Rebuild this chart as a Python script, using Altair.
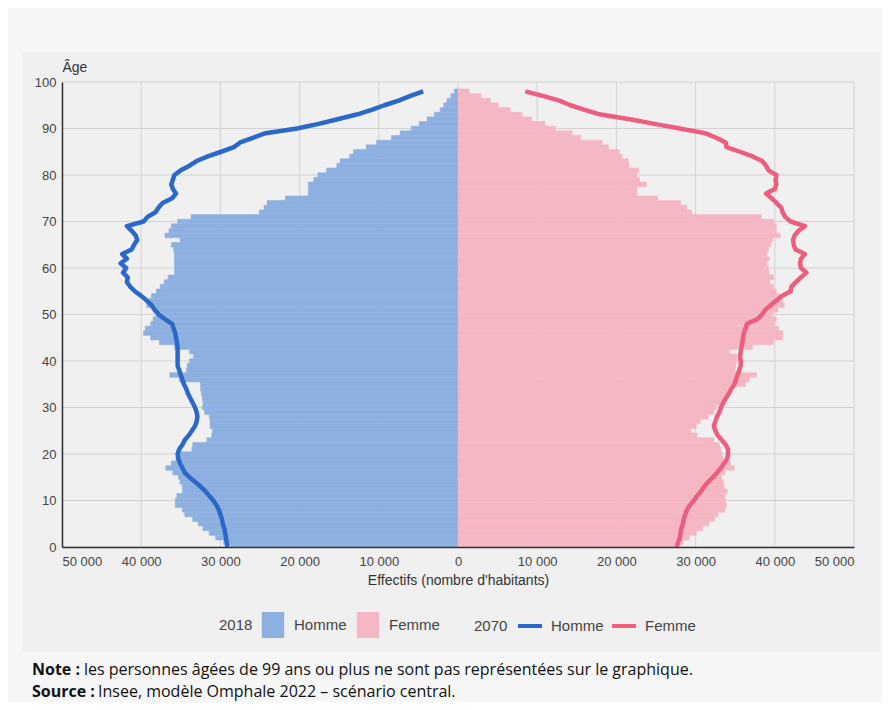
import altair as alt
import pandas as pd

ages = list(range(99))

homme_2018 = [28700, 29600, 30600, 31400, 32200, 32800, 33500, 34500, 34800, 35700,
              35700, 35500, 34800, 34800, 35100, 35300, 36000, 36900, 36200, 35600,
              35500, 33600, 33500, 31700, 31100, 31000, 31300, 31300, 31400, 32000,
              32300, 32200, 32300, 32400, 32500, 32500, 35200, 36400, 34300, 34200,
              33900, 33400, 33900, 35800, 37700, 38800, 39700, 39500, 38800, 38500,
              38100, 38400, 39300, 39000, 38700, 38100, 37600, 37100, 36600, 35800,
              35800, 35800, 35800, 35800, 35900, 36200, 35100, 37000, 36500, 36200,
              35400, 33700, 25100, 24500, 24100, 21800, 18900, 18900, 18900, 18200,
              17700, 16600, 15300, 14900, 13700, 13200, 11600, 10300, 8400, 7300,
              5900, 4900, 3900, 3000, 2250, 1800, 1400, 900, 480]

femme_2018 = [27900, 28400, 29200, 30100, 30900, 31700, 32400, 32800, 33700, 33900,
              33800, 33700, 34000, 33600, 33500, 33300, 33700, 34900, 34400, 33500,
              33300, 33200, 33000, 32300, 30200, 29400, 30100, 30600, 31600, 32300,
              32600, 33500, 33500, 34000, 34600, 36300, 36800, 37700, 35000, 35100,
              35200, 35200, 34300, 37200, 39800, 41000, 41000, 40500, 40000, 40200,
              39700, 40400, 41200, 41000, 40600, 40200, 39800, 39400, 39800, 39300,
              39200, 39000, 39300, 39000, 39200, 39500, 39700, 40700, 40200, 40200,
              39800, 38300, 29500, 28900, 28100, 25200, 22600, 22600, 23800, 22900,
              22600, 22800, 21600, 21500, 20700, 20400, 19000, 18200, 15500, 14400,
              12300, 11000, 9300, 8100, 6600, 5100, 4100, 2900, 1400]

homme_2070 = [29100, 29200, 29300, 29400, 29500, 29700, 29800, 30000, 30200, 30500,
              30900, 31400, 31900, 32500, 33200, 33900, 34500, 34800, 35100, 35300,
              35400, 35200, 34800, 34500, 34000, 33600, 33200, 33000, 32900, 33000,
              33200, 33500, 33800, 34100, 34300, 34600, 34800, 35000, 35200, 35400,
              35400, 35400, 35400, 35400, 35500, 35600, 35700, 35900, 36100, 37000,
              37800, 38300, 38700, 39300, 40000, 40800, 41400, 41800, 41700, 42300,
              41900, 42600, 41800, 42400, 41200, 40900, 40500, 40700, 41200, 41800,
              39700, 39200, 38200, 37800, 37300, 36100, 35600, 36000, 36200, 36000,
              35800, 35000, 33900, 33000, 31600, 29900, 28300, 27500, 25900, 24300,
              20300, 17600, 15200, 12800, 10900, 9300, 7500, 6000, 4400]

femme_2070 = [27600, 27800, 28000, 28100, 28200, 28400, 28500, 28700, 28900, 29300,
              29800, 30200, 30700, 31100, 31600, 32200, 32700, 33200, 33600, 34000,
              34100, 34100, 33800, 33300, 32800, 32500, 32300, 32500, 32700, 33000,
              33200, 33500, 33800, 34200, 34500, 34900, 35100, 35300, 35500, 35700,
              35700, 35600, 35700, 35800, 35900, 36000, 36100, 36300, 36500, 37800,
              38400, 38800, 39500, 40200, 40900, 42000, 42100, 42700, 43300, 44000,
              43300, 43200, 43300, 43800, 42600, 42400, 42300, 42500, 43000, 43800,
              42000, 41300, 41000, 40800, 40200, 39600, 38900, 40000, 40200, 40100,
              40200, 39200, 38900, 38400, 37200, 35600, 33900, 33800, 32600, 31200,
              28000, 24800, 21700, 18000, 16000, 14200, 12800, 10700, 8500]

sexes = ["Homme", "Femme"]
x_ticks = [-50000, -40000, -30000, -20000, -10000, 0, 10000, 20000, 30000, 40000, 50000]
y_ticks = [0, 10, 20, 30, 40, 50, 60, 70, 80, 90, 100]
note_label = "Note :"
note_text = "les personnes âgées de 99 ans ou plus ne sont pas représentées sur le graphique."
source_label = "Source :"
source_text = "Insee, modèle Omphale 2022 – scénario central."

bar_colors = ["#8DB0E0", "#F4B7C3"]
line_colors = ["#2A69CA", "#EC5E7D"]

bars_df = pd.DataFrame({
    "age": ages + ages,
    "sexe": ["Homme"] * len(ages) + ["Femme"] * len(ages),
    "effectif": homme_2018 + femme_2018,
})
lines_df = pd.DataFrame({
    "age": ages + ages,
    "sexe": ["Homme"] * len(ages) + ["Femme"] * len(ages),
    "effectif": homme_2070 + femme_2070,
})
notes_df = pd.DataFrame({
    "label": [note_label, source_label],
    "text": [note_text, source_text],
    "row": [0, 1],
})

FONT = "Liberation Sans"
signed_expr = "datum.sexe == 'Homme' ? -datum.effectif : datum.effectif"

x_scale = alt.Scale(domain=[-50000, 50000], nice=False, zero=False)
y_scale = alt.Scale(domain=[0, 100], nice=False)

x_axis = alt.Axis(
    values=x_ticks,
    labelExpr="replace(format(abs(datum.value), ','), ',', ' ')",
    title="Effectifs (nombre d'habitants)",
    grid=False, ticks=False, labelPadding=8, titlePadding=5, zindex=1,
    labelFontSize=13, titleFontSize=14, titleFontWeight="normal",
)
y_axis = alt.Axis(
    values=y_ticks, title="Âge", grid=False, ticks=False, labelPadding=6, zindex=1,
    labelFontSize=13, titleFontSize=14, titleFontWeight="normal",
    titleAngle=0, titleX=0, titleY=-11, titleAlign="left",
    titleBaseline="alphabetic",
)

# light panel behind the chart (decoration)
panel = alt.Chart(pd.DataFrame({"p": [0]})).mark_rect(color="#f0f0f0").encode(
    x=alt.value(-40), x2=alt.value(818), y=alt.value(-30), y2=alt.value(570)
)

vgrid = alt.Chart(pd.DataFrame({"v": x_ticks})).mark_rule(
    color="#d2d2d2", strokeWidth=1
).encode(x=alt.X("v:Q", scale=x_scale, axis=x_axis))

hgrid = alt.Chart(pd.DataFrame({"v": y_ticks})).mark_rule(
    color="#d2d2d2", strokeWidth=1
).encode(y=alt.Y("v:Q", scale=y_scale, axis=y_axis))

bars = alt.Chart(bars_df).transform_calculate(
    signed=signed_expr, lo="datum.age - 0.5", hi="datum.age + 0.5"
).mark_bar(clip=True, strokeWidth=0.5).encode(
    x=alt.X("signed:Q", scale=x_scale, axis=x_axis),
    x2=alt.datum(0),
    y=alt.Y("lo:Q", scale=y_scale, axis=y_axis),
    y2="hi:Q",
    color=alt.Color(
        "sexe:N",
        scale=alt.Scale(domain=sexes, range=bar_colors),
        legend=alt.Legend(
            title="2018", orient="none", legendX=157, legendY=530,
            direction="horizontal", titleOrient="left",
            titleAnchor="middle", titleBaseline="middle",
            symbolType="M-0.86,-1H0.86V1H-0.86Z", symbolSize=676,
            symbolStrokeWidth=0, labelOffset=8, columnPadding=8,
            titlePadding=7,
        ),
    ),
    stroke=alt.Stroke("sexe:N", scale=alt.Scale(domain=sexes, range=bar_colors), legend=None),
)

lines = alt.Chart(lines_df).transform_calculate(
    signed=signed_expr
).mark_line(strokeWidth=4.5, strokeJoin="round").encode(
    x=alt.X("signed:Q", scale=x_scale, axis=x_axis),
    y=alt.Y("age:Q", scale=y_scale, axis=y_axis),
    order=alt.Order("age:Q"),
    detail="sexe:N",
    color=alt.Color(
        "sexe:N",
        scale=alt.Scale(domain=sexes, range=line_colors),
        legend=alt.Legend(
            title="2070", orient="none", legendX=412, legendY=530,
            direction="horizontal", titleOrient="left",
            titleAnchor="middle", titleBaseline="line-top", titleLineHeight=7,
            symbolType="stroke", symbolSize=576, symbolStrokeWidth=4,
            labelOffset=7, columnPadding=0, titlePadding=8,
        ),
    ),
)

text_style = dict(align="left", baseline="middle", font="Open Sans", fontSize=16, color="#111")

note_b = alt.Chart(notes_df).transform_filter("datum.row == 0").mark_text(
    fontWeight="bold", **text_style
).encode(text="label:N", x=alt.value(-30), y=alt.value(588))

source_b = alt.Chart(notes_df).transform_filter("datum.row == 1").mark_text(
    fontWeight="bold", **text_style
).encode(text="label:N", x=alt.value(-30), y=alt.value(610))

note_t = alt.Chart(notes_df).transform_filter("datum.row == 0").mark_text(
    **text_style
).encode(text="text:N", x=alt.value(22), y=alt.value(588))

source_t = alt.Chart(notes_df).transform_filter("datum.row == 1").mark_text(
    **text_style
).encode(text="text:N", x=alt.value(36), y=alt.value(610))

chart = alt.layer(
    panel, vgrid, hgrid, bars, lines, note_b, source_b, note_t, source_t
).resolve_scale(
    color="independent", stroke="independent"
).properties(
    width=792, height=465,
    autosize=alt.AutoSizeParams(type="none"),
    padding={"left": 54, "top": 74, "right": 28, "bottom": 155},
    background="#f6f6f6",
).configure_view(stroke=None).configure_axis(
    labelFont=FONT, titleFont=FONT, labelColor="#444", titleColor="#333",
    domainColor="#333", domainWidth=1.5,
).configure_legend(
    labelFont=FONT, titleFont=FONT, labelFontSize=15, titleFontSize=15,
    titleFontWeight="normal", labelColor="#444", titleColor="#444",
)

chart.save("out.html", embed_options={"renderer": "svg", "actions": False})
